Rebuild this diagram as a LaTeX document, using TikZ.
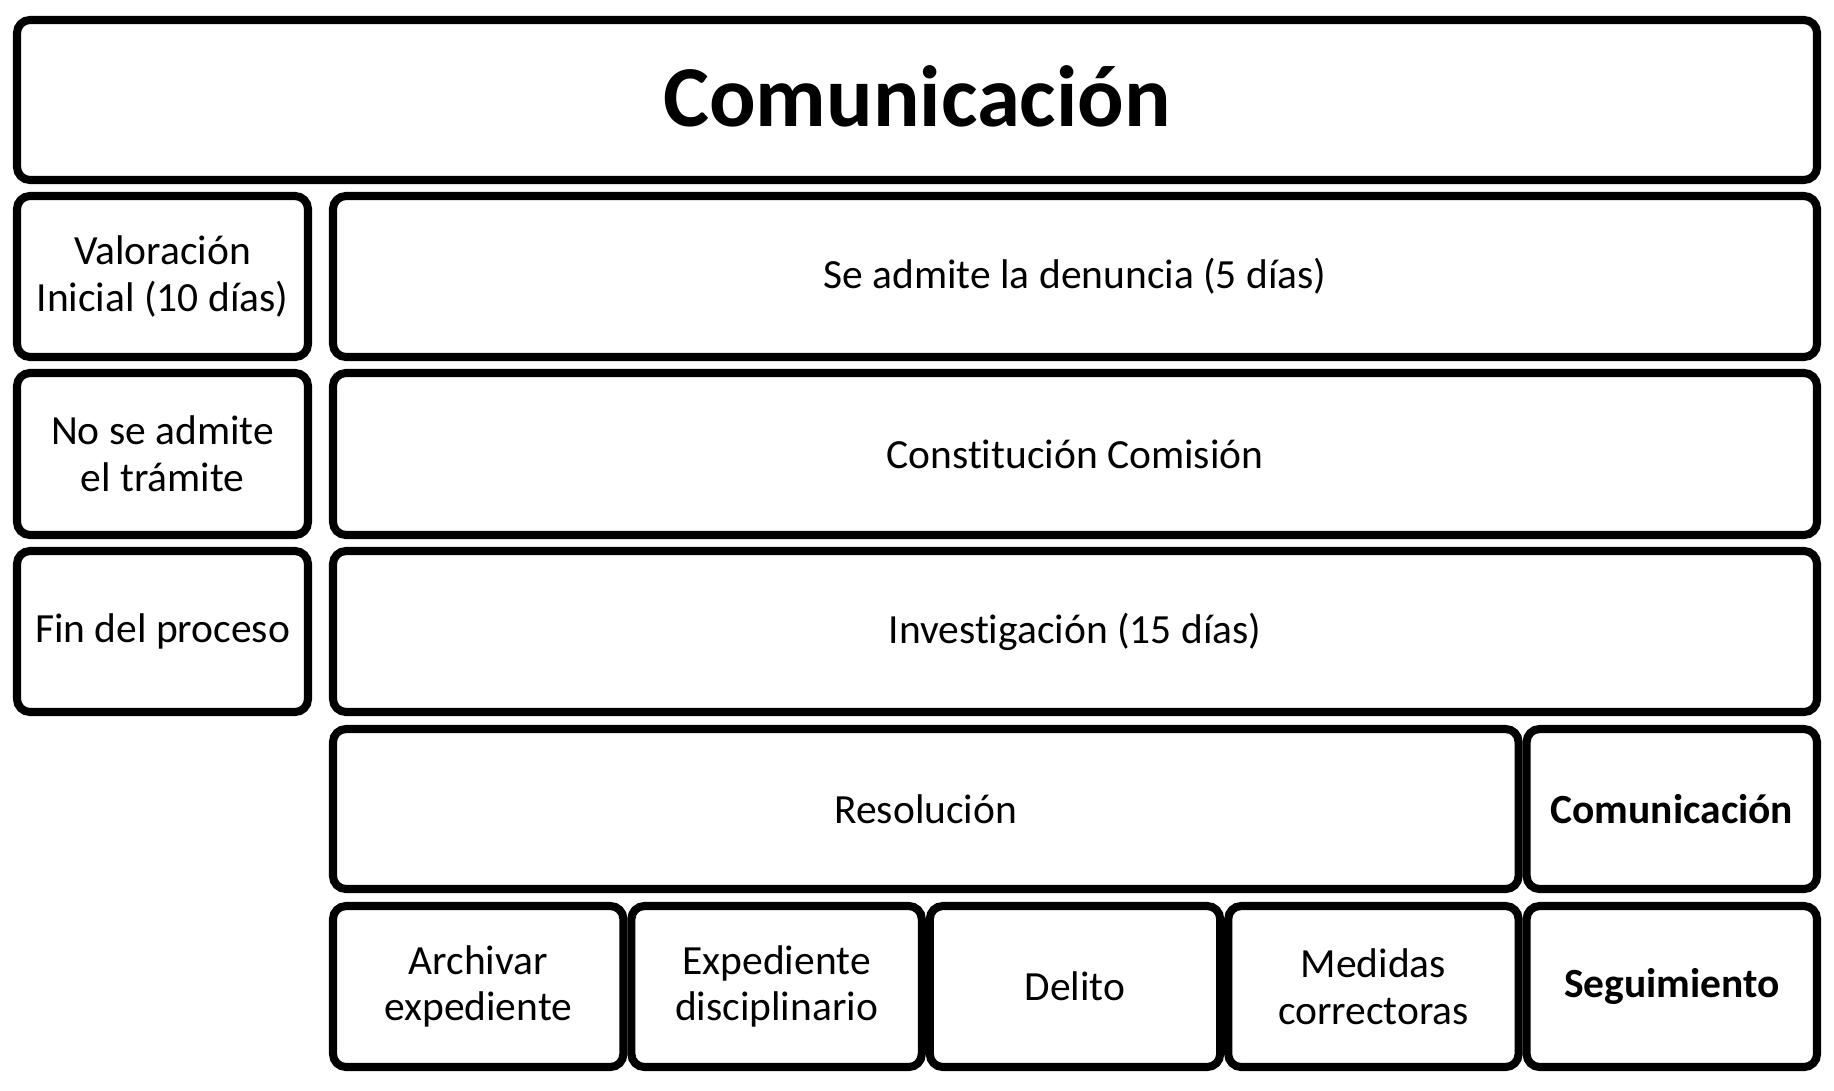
\documentclass[tikz,border=0pt]{standalone}
\usepackage{fontspec}
\setmainfont{Carlito}[Ligatures=NoCommon]
\begin{document}
\begin{tikzpicture}[x=0.01cm,y=-0.01cm,
  box/.style={draw=black, line width=2.3pt, rounded corners=0.13cm, fill=white,
    inner sep=0pt, align=center, font=\fontsize{11.8}{13.3}\selectfont},
  title/.style={font=\fontsize{24.7}{28}\selectfont\bfseries, text height=0.52cm, text depth=0cm},
  strong/.style={font=\fontsize{11.8}{13.3}\selectfont\bfseries}]
\useasboundingbox (0,0) rectangle (1834,1090);
\newcommand{\bx}[6][]{%
  \node[box,#1,minimum width={(#4-#2)*0.01cm},minimum height={(#5-#3)*0.01cm}]
    (#6) at ({(#2+#4)/2},{(#3+#5)/2})}
% title
\bx[title]{17}{20}{1817}{180}{top} {Comunicación};
% left column
\bx{17}{196}{308}{357}{val} {Valoración\\Inicial (10 días)};
\bx{17}{373}{308}{535}{noadm} {No se admite\\el trámite};
\bx{17}{551}{308}{712}{fin} {Fin del proceso};
% right column
\bx{333}{196}{1817}{357}{admite} {Se admite la denuncia (5 días)};
\bx{333}{373}{1817}{535}{const} {Constitución Comisión};
\bx{333}{551}{1817}{712}{inv} {Investigación (15 días)};
\bx{333}{729}{1518.6}{889}{res} {Resolución};
\bx[strong]{1526.6}{729}{1817}{889}{com} {Comunicación};
% bottom row
\bx{333}{906}{623.4}{1067}{arch} {Archivar\\expediente};
\bx{631.4}{906}{921.8}{1067}{exp} {Expediente\\disciplinario};
\bx{929.8}{906}{1220.2}{1067}{del} {Delito};
\bx{1228.2}{906}{1518.6}{1067}{med} {Medidas\\correctoras};
\bx[strong]{1526.6}{906}{1817}{1067}{seg} {Seguimiento};
\end{tikzpicture}
\end{document}
